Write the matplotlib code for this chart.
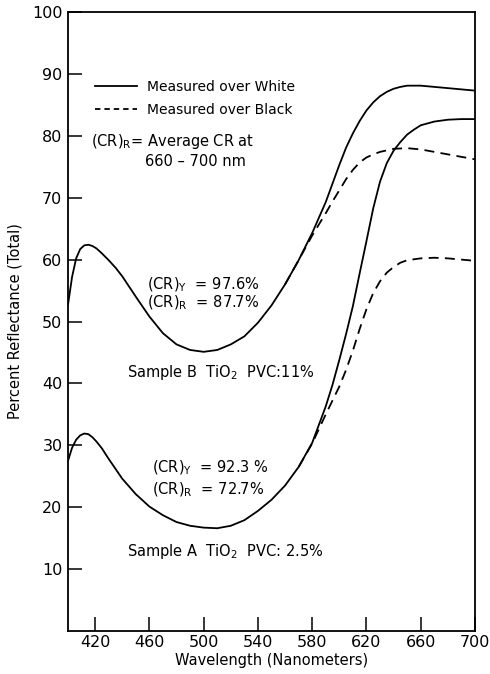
import matplotlib
matplotlib.use("Agg")
import matplotlib.pyplot as plt
from matplotlib.lines import Line2D

plt.rcParams['font.family'] = ['DejaVu Sans']
plt.rcParams['mathtext.default'] = 'regular'

# ---- data ----
wl_full = [400, 403, 406, 409, 412, 415, 418, 421, 425, 430, 435, 440, 450, 460,
           470, 480, 490, 500, 510, 520, 530, 540, 550, 560, 570, 580, 590, 595,
           600, 605, 610, 615, 620, 625, 630, 635, 640, 645, 650, 655, 660, 670,
           680, 690, 700]
b_white = [52.7, 57.2, 60.2, 61.7, 62.3, 62.4, 62.2, 61.8, 61.0, 59.9, 58.7, 57.3,
           54.0, 50.8, 48.1, 46.3, 45.4, 45.1, 45.4, 46.3, 47.6, 49.8, 52.6, 56.0,
           59.9, 64.3, 69.3, 72.3, 75.3, 78.1, 80.4, 82.4, 84.1, 85.4, 86.4, 87.1,
           87.6, 87.9, 88.1, 88.1, 88.1, 87.9, 87.7, 87.5, 87.3]
a_white = [27.5, 29.6, 30.9, 31.6, 31.9, 31.8, 31.3, 30.6, 29.5, 27.8, 26.2, 24.6,
           22.1, 20.1, 18.7, 17.6, 17.0, 16.7, 16.6, 17.0, 17.9, 19.4, 21.2, 23.5,
           26.5, 30.4, 36.3, 39.8, 43.8, 48.0, 52.5, 57.8, 63.0, 68.3, 72.6, 75.6,
           77.6, 79.0, 80.2, 81.0, 81.7, 82.3, 82.6, 82.7, 82.7]

wl_black_b = [560, 570, 580, 590, 595, 600, 605, 610, 615, 620, 625, 630, 640, 650,
              660, 670, 680, 690, 700]
b_black = [56.0, 59.9, 63.9, 67.5, 69.4, 71.2, 73.0, 74.5, 75.7, 76.5, 77.0, 77.4,
           77.9, 78.0, 77.8, 77.4, 77.0, 76.6, 76.2]
wl_black_a = [570, 580, 590, 600, 605, 610, 615, 620, 625, 630, 635, 640, 645, 650,
              660, 670, 680, 690, 700]
a_black = [26.5, 30.3, 35.0, 39.5, 42.2, 45.3, 48.8, 52.0, 54.6, 56.5, 57.9, 58.8,
           59.5, 59.9, 60.2, 60.3, 60.2, 60.0, 59.8]

x_ticks = [420, 460, 500, 540, 580, 620, 660, 700]
y_ticks = [10, 20, 30, 40, 50, 60, 70, 80, 90, 100]

# ---- figure ----
fig = plt.figure(figsize=(4.90, 6.74), dpi=100)
ax = fig.add_axes([68/490, 1 - 631/674, (475-68)/490, (631-12)/674])

lw = 1.3
dash = (0, (5.5, 3.5))
ax.plot(wl_full, b_white, color='black', lw=lw)
ax.plot(wl_full, a_white, color='black', lw=lw)
ax.plot(wl_black_b, b_black, color='black', lw=lw, linestyle=dash)
ax.plot(wl_black_a, a_black, color='black', lw=lw, linestyle=dash)

ax.set_xlim(400, 700)
ax.set_ylim(0, 100)
ax.set_xticks(x_ticks)
ax.set_yticks(y_ticks)
ax.tick_params(direction='in', length=10, width=1.1, labelsize=11.5, pad=4)
ax.tick_params(axis='x', pad=3)
for s in ax.spines.values():
    s.set_linewidth(1.3)

ax.set_xlabel('Wavelength (Nanometers)', fontsize=10.5, labelpad=2)
ax.set_ylabel('Percent Reflectance (Total)', fontsize=10.5, labelpad=7)

handles = [Line2D([], [], color='black', lw=lw),
           Line2D([], [], color='black', lw=lw, linestyle=(0, (3.0, 2.2)))]
ax.legend(handles, ['Measured over White', 'Measured over Black'],
          loc='upper left', bbox_to_anchor=(0.067, 0.89), frameon=False,
          fontsize=10, handlelength=3.0, handletextpad=0.7,
          labelspacing=0.65, borderaxespad=0, borderpad=0)

fs = 10.5
ax.text(417, 79.0, r'(CR)$_{R}$= Average CR at', fontsize=fs, va='center')
ax.text(456.5, 75.8, '660 \u2013 700 nm', fontsize=fs, va='center')
ax.text(458, 55.9, r'(CR)$_{Y}$  = 97.6%', fontsize=fs, va='center')
ax.text(458, 53.0, r'(CR)$_{R}$  = 87.7%', fontsize=fs, va='center')
ax.text(443.5, 41.7, r'Sample B  TiO$_{2}$  PVC:11%', fontsize=fs, va='center')
ax.text(462, 26.3, r'(CR)$_{Y}$  = 92.3 %', fontsize=fs, va='center')
ax.text(462, 22.8, r'(CR)$_{R}$  = 72.7%', fontsize=fs, va='center')
ax.text(443.5, 12.8, r'Sample A  TiO$_{2}$  PVC: 2.5%', fontsize=fs, va='center')

fig.savefig('out.png', dpi=100)
